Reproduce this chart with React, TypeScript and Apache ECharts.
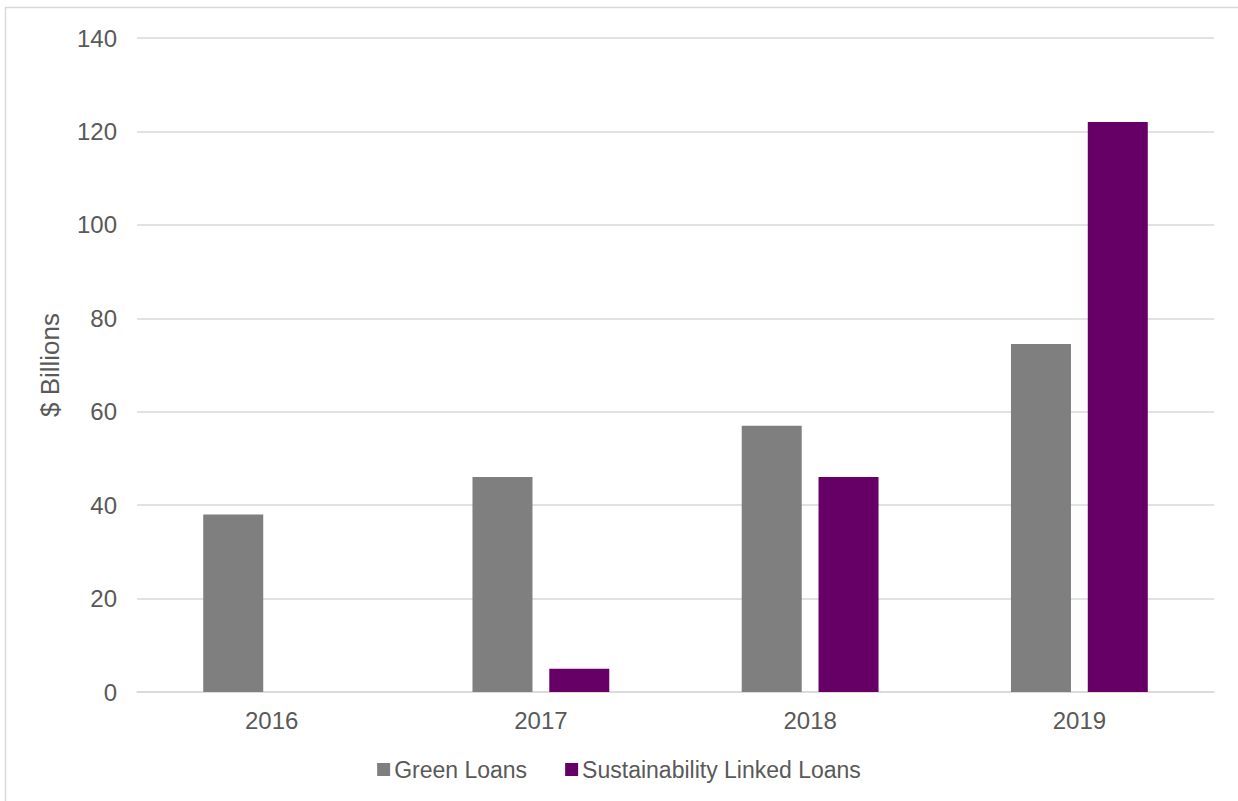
import React, { useEffect, useRef } from "react";
import * as echarts from "echarts";

const categories = ["2016", "2017", "2018", "2019"];
const greenLoans = [38, 46, 57, 74.5];
const sustainabilityLinkedLoans: (number | null)[] = [null, 5, 46, 122];
const seriesNames = ["Green Loans", "Sustainability Linked Loans"];
const yAxisName = "$ Billions";

export default function App() {
  const ref = useRef<HTMLDivElement>(null);
  useEffect(() => {
    if (!ref.current) return;
    const chart = echarts.init(ref.current, undefined, { renderer: "svg" });
    const font = "Liberation Sans, Arial, sans-serif";
    const textColor = "#595959";
    chart.setOption({
      animation: false,
      backgroundColor: "#ffffff",
      textStyle: { fontFamily: font },
      graphic: [
        {
          type: "rect",
          shape: { x: 5.5, y: 7.5, width: 1400, height: 1000 },
          style: { fill: "none", stroke: "#d9d9d9", lineWidth: 1.5 },
          silent: true,
        },
      ],
      grid: { left: 137, right: 24, top: 38, bottom: 109 },
      legend: {
        data: seriesNames,
        bottom: 15,
        left: "center",
        itemWidth: 13,
        itemHeight: 13,
        itemGap: 38,
        icon: "rect",
        textStyle: { color: textColor, fontSize: 23, fontFamily: font, padding: [0, 0, 0, -1] },
      },
      xAxis: {
        type: "category",
        data: categories,
        axisLine: { lineStyle: { color: "#d9d9d9", width: 1.5 } },
        axisTick: { show: false },
        axisLabel: { color: textColor, fontSize: 24, margin: 16, fontFamily: font },
      },
      yAxis: {
        type: "value",
        min: 0,
        max: 140,
        interval: 20,
        name: yAxisName,
        nameLocation: "middle",
        nameGap: 74,
        nameRotate: 90,
        nameTextStyle: { color: textColor, fontSize: 26, fontFamily: font },
        axisLine: { show: false },
        axisTick: { show: false },
        axisLabel: { color: textColor, fontSize: 24, margin: 20, fontFamily: font },
        splitLine: { lineStyle: { color: "#d9d9d9", width: 1.5 } },
      },
      series: [
        {
          name: seriesNames[0],
          type: "bar",
          data: greenLoans,
          barWidth: 60,
          barGap: "28%",
          itemStyle: { color: "#7f7f7f" },
        },
        {
          name: seriesNames[1],
          type: "bar",
          data: sustainabilityLinkedLoans,
          barWidth: 60,
          barGap: "28%",
          itemStyle: { color: "#660066" },
        },
      ],
    });
    return () => chart.dispose();
  }, []);
  return (
    <div
      ref={ref}
      style={{ position: "fixed", left: 0, top: 0, width: 1238, height: 801 }}
    />
  );
}
